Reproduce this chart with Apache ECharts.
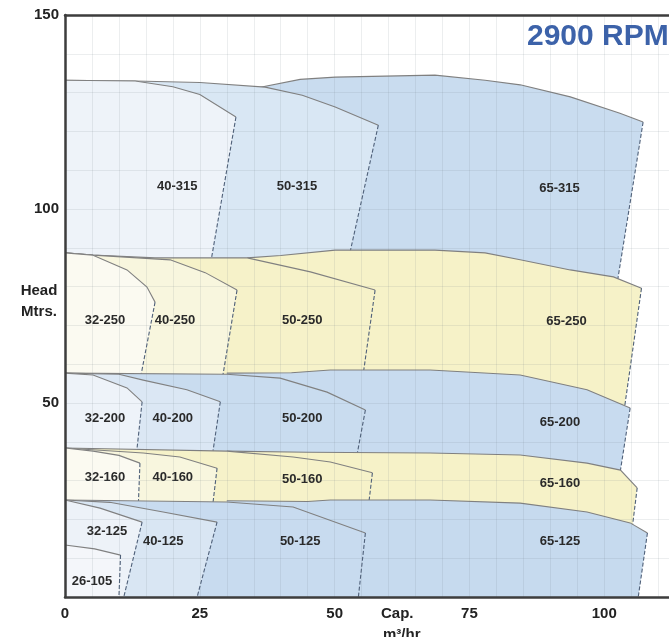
<!DOCTYPE html>
<html>
<head>
<meta charset="utf-8">
<script src="https://cdn.jsdelivr.net/npm/echarts@6/dist/echarts.min.js"></script>
<style>
html,body{margin:0;padding:0;background:#ffffff;}
#chart{width:669px;height:637px;}
</style>
</head>
<body>
<div id="chart"></div>
<script>
// ---- axis ticks ----
const xTicks = [0, 25, 50, 75, 100];
const yTicks = [50, 100, 150];

// ---- pump models, drawn back to front ----
const models = ['65-315','50-315','40-315',
                '65-250','50-250','40-250','32-250',
                '65-200','50-200','40-200','32-200',
                '65-160','50-160','40-160','32-160',
                '65-125','50-125','40-125','32-125','26-105'];

// ---- region outlines [capacity m3/hr, head m] : top edge (left->right) and bottom edge ----
const top65_315 = [[36,131.3],[43.6,133.4],[50.1,134.0],[68.6,134.5],[77.9,133.2],[84.4,132.0],[93.7,128.9],[102.9,124.7],[107.2,122.4]];
const bot65_315 = [[36,86],[50.1,88.4],[68.6,88.4],[77.9,87.7],[84.4,85.9],[93.7,83.3],[101.7,81.5],[102.4,81.0]];
const top50_315 = [[0,133.2],[13,133.0],[25,132.6],[37.1,131.4],[44,129.3],[50.1,126.3],[58.1,121.6]];
const bot50_315 = [[0,86],[52.4,86]];
const top40_315 = [[0,133.2],[13,133.0],[20,131.5],[25,129.5],[31.7,123.7]];
const bot40_315 = [[0,86],[27.0,86]];

const top65_250 = [[33.8,87.4],[40,88.0],[50.1,89.4],[68.6,89.4],[77.9,88.7],[84.4,86.9],[93.7,84.3],[101.7,82.5],[106.9,79.6]];
const bot65_250 = [[33.8,56],[49.2,57.5],[67.7,57.5],[84.4,56.2],[96.8,52.4],[103.7,48.3]];
const top50_250 = [[0,88.7],[5.2,88.1],[16.7,87.4],[33.8,87.4],[45.5,83.8],[57.5,79.1]];
const bot50_250 = [[0,56.5],[55.2,56.5]];
const top40_250 = [[0,88.7],[5.2,88.1],[19.5,86.9],[26,83.6],[31.9,79.1]];
const bot40_250 = [[0,56.5],[29.2,56.5]];
const top32_250 = [[0,88.7],[5.2,88.1],[11.5,84.3],[15.2,79.9],[16.7,76.0]];
const bot32_250 = [[0,56.5],[14.0,56.5]];

const top65_200 = [[30,57.7],[42,57.8],[49.2,58.5],[67.7,58.5],[84.4,57.2],[96.8,53.4],[104.8,48.7]];
const bot65_200 = [[30,36],[67.7,36],[84.4,35.5],[96.8,33.5],[102.9,31.8]];
const top50_200 = [[0,57.7],[30,57.4],[39.9,56.4],[48.6,52.8],[55.7,48.2]];
const bot50_200 = [[0,36.3],[54.1,36.3]];
const top40_200 = [[0,57.7],[10,57.4],[14.5,55.9],[22.6,53.4],[28.8,50.3]];
const bot40_200 = [[0,36.3],[27.3,36.3]];
const top32_200 = [[0,57.7],[5.2,57.2],[11.5,53.9],[14.3,50.3]];
const bot32_200 = [[0,36.3],[13.2,36.3]];

const top65_160 = [[30,37.6],[45,37.3],[67.7,37.1],[84.4,36.6],[96.8,34.5],[103.0,32.7],[106.1,28.1]];
const bot65_160 = [[30,23.5],[67.7,24.0],[84.4,23.2],[96.8,20.9],[105.2,18.0]];
const top50_160 = [[0,38.4],[30,37.6],[42.3,36.1],[49.2,34.8],[57.0,32.0]];
const bot50_160 = [[0,23.8],[56.3,23.8]];
const top40_160 = [[0,38.4],[14.5,37.1],[21.3,36.1],[28.2,33.2]];
const bot40_160 = [[0,23.8],[27.4,23.8]];
const top32_160 = [[0,38.4],[5.2,37.6],[10,36.5],[13.9,34.5]];
const bot32_160 = [[0,23.8],[13.6,23.8]];

const top65_125 = [[30,24.8],[45,24.6],[49.2,25.0],[67.7,25.0],[84.4,24.2],[96.8,21.9],[104.8,19.1],[108.0,16.5]];
const bot65_125 = [[30,0],[106.3,0]];
const top50_125 = [[0,25.0],[30,24.5],[42.3,23.2],[55.7,16.5]];
const bot50_125 = [[0,0],[54.4,0]];
const top40_125 = [[0,25.0],[8.3,24.4],[18.2,21.9],[28.2,19.3]];
const bot40_125 = [[0,0],[24.5,0]];
const top32_125 = [[0,25.0],[6.5,22.9],[14.3,19.3]];
const bot32_125 = [[0,0],[10.9,0]];
const top26_105 = [[0,13.4],[5.5,12.4],[10.3,10.8]];
const bot26_105 = [[0,0],[10.0,0]];

// label anchor of each model (data units)
const labelAt = [[91.7,105.4],[43.0,105.7],[20.8,105.7],
                 [93.0,70.9],[44.0,71.4],[20.4,71.4],[7.4,71.4],
                 [91.8,45.1],[44.0,46.1],[20.0,46.1],[7.4,46.1],
                 [91.8,29.4],[44.0,30.2],[20.0,30.7],[7.4,30.7],
                 [91.8,14.2],[43.6,14.2],[18.2,14.2],[7.8,16.8],[5.0,3.9]];

const tops = [top65_315, top50_315, top40_315,
              top65_250, top50_250, top40_250, top32_250,
              top65_200, top50_200, top40_200, top32_200,
              top65_160, top50_160, top40_160, top32_160,
              top65_125, top50_125, top40_125, top32_125, top26_105];
const bots = [bot65_315, bot50_315, bot40_315,
              bot65_250, bot50_250, bot40_250, bot32_250,
              bot65_200, bot50_200, bot40_200, bot32_200,
              bot65_160, bot50_160, bot40_160, bot32_160,
              bot65_125, bot50_125, bot40_125, bot32_125, bot26_105];

// styles
const fills = ['#c9dcef','#d9e7f4','#eef3f9',
               '#f6f2c8','#f6f2c9','#f8f6de','#fbfaf1',
               '#c8dbef','#c9dcef','#dbe7f4','#eef3f9',
               '#f6f2c8','#f6f2c9','#f8f6de','#fbfaf1',
               '#c6daee','#c8dbef','#d9e6f3','#edf2f8','#f4f6fa'];

const chart = echarts.init(document.getElementById('chart'), null, {renderer:'canvas'});
const axisFont = {fontFamily:'Liberation Sans', fontWeight:'bold', fontSize:15, color:'#222'};

chart.setOption({
  animation:false,
  backgroundColor:'#ffffff',
  grid:{left:65, top:15, right:0, bottom:40, containLabel:false, outerBoundsMode:'none'},
  xAxis:[
    {type:'value', min:0, max:112, interval:25, position:'bottom', z:10,
     axisLine:{show:true, onZero:false, lineStyle:{color:'#3d3d3d', width:2.5}},
     axisTick:{show:false}, splitLine:{show:false},
     axisLabel:Object.assign({margin:9, customValues:xTicks}, axisFont)},
    {type:'value', min:0, max:112, interval:5, position:'top', z:9,
     axisLine:{show:true, onZero:false, lineStyle:{color:'#3d3d3d', width:2.5}},
     axisTick:{show:false}, axisLabel:{show:false},
     splitLine:{show:true, lineStyle:{color:'rgba(110,120,135,0.13)', width:1}}}
  ],
  yAxis:[
    {type:'value', min:0, max:150, interval:50, position:'left', z:10,
     axisLine:{show:true, onZero:false, lineStyle:{color:'#3d3d3d', width:2.5}},
     axisTick:{show:false}, splitLine:{show:false},
     axisLabel:Object.assign({margin:6, customValues:yTicks}, axisFont)},
    {type:'value', min:0, max:150, interval:10, position:'right', z:9,
     axisLine:{show:false}, axisTick:{show:false}, axisLabel:{show:false},
     splitLine:{show:true, lineStyle:{color:'rgba(110,120,135,0.13)', width:1}}}
  ],
  graphic:[
    {type:'text', left:527, top:22, z:20, style:{text:'2900 RPM', font:'bold 30px "Liberation Sans"', fill:'#3c62a9'}},
    {type:'text', x:39, y:291, z:20, style:{text:'Head', font:'bold 15px "Liberation Sans"', fill:'#222', align:'center', verticalAlign:'middle'}},
    {type:'text', x:39, y:312, z:20, style:{text:'Mtrs.', font:'bold 15px "Liberation Sans"', fill:'#222', align:'center', verticalAlign:'middle'}},
    {type:'text', x:381, y:614, z:20, style:{text:'Cap.', font:'bold 15px "Liberation Sans"', fill:'#222', align:'left', verticalAlign:'middle'}},
    {type:'text', x:383, y:635, z:20, style:{text:'m³/hr', font:'bold 15px "Liberation Sans"', fill:'#222', align:'left', verticalAlign:'middle'}}
  ],
  series:[{
    type:'custom',
    xAxisIndex:0, yAxisIndex:0,
    coordinateSystem:'cartesian2d',
    clip:false,
    data: models.map((m,i)=>[i, 0]),
    renderItem:function(params, api){
      const i = api.value(0);
      const tp = tops[i].map(p=>api.coord(p));
      const bp = bots[i].map(p=>api.coord(p));
      const poly = tp.concat(bp.slice().reverse());
      const right = [tp[tp.length-1], bp[bp.length-1]];
      const lp = api.coord(labelAt[i]);
      return {type:'group', children:[
        {type:'polygon', shape:{points:poly}, style:{fill:fills[i], stroke:null}},
        {type:'polyline', shape:{points:tp}, style:{stroke:'#808080', lineWidth:1.1, fill:null}},
        {type:'polyline', shape:{points:right}, style:{stroke:'#4f6079', lineWidth:1.1, lineDash:[4,2], fill:null}},
        {type:'text', x:lp[0], y:lp[1], style:{text:models[i], font:'bold 13px "Liberation Sans"', fill:'#2a2a2a', align:'center', verticalAlign:'middle'}}
      ]};
    }
  }]
});
</script>
</body>
</html>
